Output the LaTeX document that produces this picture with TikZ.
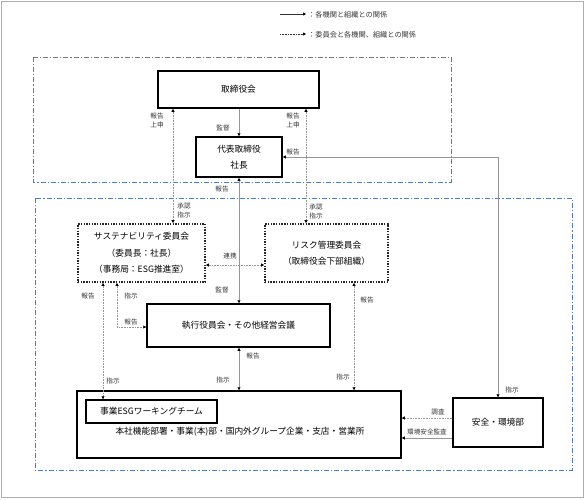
\documentclass[tikz,border=0pt]{standalone}
\usepackage{fontspec}
\setmainfont{Noto Sans CJK JP}
\usetikzlibrary{arrows.meta,calc}
\definecolor{frameblue}{RGB}{160,176,205}
\definecolor{contblue}{RGB}{90,122,172}
\definecolor{lgray}{RGB}{150,150,150}
\tikzset{
  box/.style={draw=black,line width=1.5pt,inner sep=0pt,align=center,font=\fontsize{8.7}{16}\selectfont},
  cbox/.style={draw=black!85,line width=1.8pt,dash pattern=on 1.4pt off 1.3pt,inner sep=0pt,align=center,font=\fontsize{8.7}{16.5}\selectfont},
  cont/.style={draw=contblue,line width=0.7pt,dash pattern=on 5pt off 2pt on 1.2pt off 2pt},
  sol/.style={draw=lgray,line width=0.9pt},
  dott/.style={draw=lgray,line width=0.7pt,dash pattern=on 0.8pt off 0.8pt},
  lab/.style={inner sep=0pt,font=\fontsize{6.6}{9}\selectfont,text=black!80,align=center},
  >={Triangle[length=3pt,width=3pt,color=black]}
}
\begin{document}
\begin{tikzpicture}[x=1pt,y=-1pt]
\useasboundingbox (0,0) rectangle (586,499);
\draw[frameblue,line width=0.8pt] (1,1) rectangle (583,497);
% legend
\coordinate (l1a) at (280,14); \coordinate (l1b) at (306,14);
\coordinate (l2a) at (280,34); \coordinate (l2b) at (306,34);
\draw[black!80,line width=0.7pt,->] (l1a) -- (l1b);
\draw[black!80,line width=0.7pt,dash pattern=on 0.8pt off 0.8pt,->] (l2a) -- (l2b);
\node[lab,anchor=west,font=\fontsize{7.2}{9}\selectfont] (leg1) at (308,15) {：各機関と組織との関係};
\node[lab,anchor=west,font=\fontsize{7.2}{9}\selectfont] (leg2) at (308,35) {：委員会と各機関、組織との関係};
% containers
\draw[cont] (33,57) rectangle (451,182);
\draw[cont] (35,198) rectangle (572,470);
% nodes
\node[box,minimum width=161pt,minimum height=37pt] (tori) at (238.5,89.5) {取締役会};
\node[box,minimum width=86pt,minimum height=40pt] (dai) at (239,157) {代表取締役\\社長};
\node[cbox,minimum width=127pt,minimum height=58pt] (sus) at (141.5,253) {サステナビリティ委員会\\（委員長：社長）\\（事務局：ESG推進室）};
\node[cbox,minimum width=123pt,minimum height=58pt] (risk) at (326.5,253) {リスク管理委員会\\（取締役会下部組織）};
\node[box,minimum width=183pt,minimum height=43pt] (shikko) at (238.5,325.5) {執行役員会・その他経営会議};
\node[box,minimum width=324pt,minimum height=67pt] (jigyo) at (239,424.5) {};
\node[box,minimum width=131pt,minimum height=23pt] (esg) at (151.5,411.5) {事業ESGワーキングチーム};
\node[inner sep=0pt,font=\fontsize{8.7}{10}\selectfont] (jtext) at (240,432) {本社機能部署・事業(本)部・国内外グループ企業・支店・営業所};
\node[box,minimum width=90pt,minimum height=49pt] (anzen) at (498,422.5) {安全・環境部};
% helper coordinates
\coordinate (xL) at (173,0);
\coordinate (xR) at (306,0);
\coordinate (xS1) at (103,0);
\coordinate (xS2) at (117,0);
\coordinate (xRk) at (354,0);
\coordinate (xA) at (498,0);
\coordinate (yS) at (0,327);
\coordinate (yLk) at (0,265);
\coordinate (yD1) at (0,418);
\coordinate (yD2) at (0,438);
% connectors
\draw[sol,->] (tori.south -| dai.north) -- (dai.north);
\draw[dott,<->] (tori.south -| xL) -- (sus.north -| xL);
\draw[dott,<->] (tori.south -| xR) -- (risk.north -| xR);
\draw[sol,<->] (dai.east) -- (dai.east -| xA) -- (anzen.north);
\draw[sol,<->] (dai.south) -- (shikko.north -| dai.south);
\draw[dott,<->] (sus.east |- yLk) -- (risk.west |- yLk);
\draw[dott,<->] (sus.south -| xS1) -- (esg.north -| xS1);
\draw[dott,<->] (sus.south -| xS2) -- (yS -| xS2) -- (shikko.west |- yS);
\draw[dott,<->] (risk.south -| xRk) -- (jigyo.north -| xRk);
\draw[sol,<->] (shikko.south -| jigyo.north) -- (jigyo.north);
\draw[dott,->] (anzen.west |- yD1) -- (jigyo.east |- yD1);
\draw[sol,->] (anzen.west |- yD2) -- (jigyo.east |- yD2);
% labels
\node[lab] (l01) at (223,128) {監督};
\node[lab] (l02) at (157,120) {報告\\上申};
\node[lab] (l03) at (293,120) {報告\\上申};
\node[lab] (l04) at (184,211) {承認\\指示};
\node[lab] (l05) at (316,212) {承認\\指示};
\node[lab] (l06) at (293,152) {報告};
\node[lab] (l07) at (512,390) {指示};
\node[lab] (l08) at (222,189) {報告};
\node[lab] (l09) at (222,290) {監督};
\node[lab] (l10) at (230,256) {連携};
\node[lab] (l11) at (88,296) {報告};
\node[lab] (l12) at (113,381) {指示};
\node[lab] (l13) at (131,296) {指示};
\node[lab] (l14) at (131,322) {報告};
\node[lab] (l15) at (367,300) {報告};
\node[lab] (l16) at (343,377) {指示};
\node[lab] (l17) at (253,356) {報告};
\node[lab] (l18) at (223,380) {指示};
\node[lab] (l19) at (438,412) {調査};
\node[lab] (l20) at (427,432) {環境安全監査};
\end{tikzpicture}
\end{document}
